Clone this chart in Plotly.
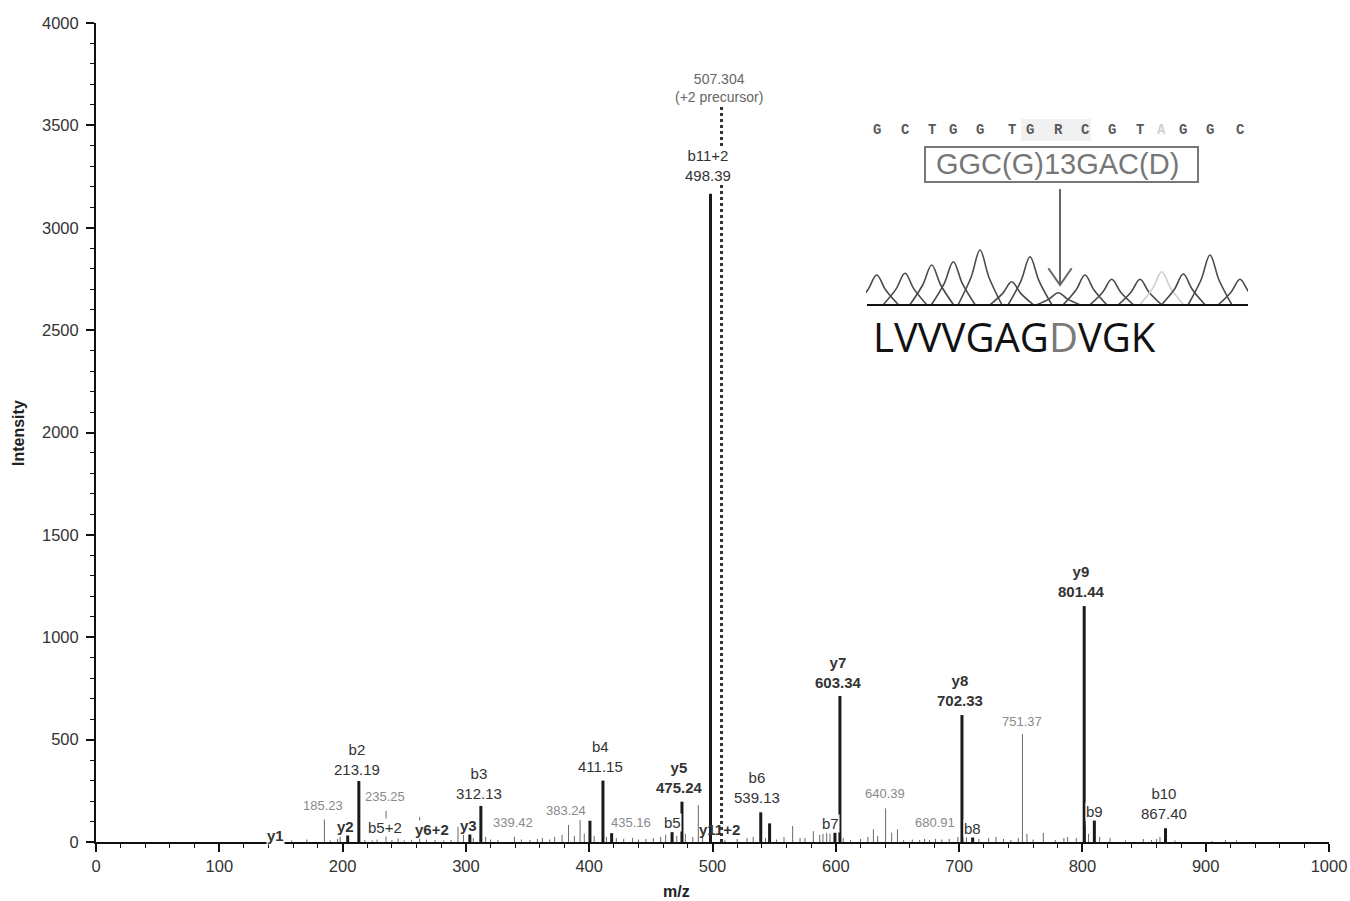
import plotly.graph_objects as go

# ---------------- data: MS/MS spectrum ----------------
# matched fragment ions (thick black sticks)
matched_mz = [147.11, 204.13, 213.19, 303.19, 312.13, 400.6, 411.15, 418.2, 467.2,
              475.24, 498.39, 539.13, 546.3, 599.3, 603.34, 702.33, 711.0, 801.44,
              809.7, 867.40]
matched_int = [6, 50, 298, 45, 176, 104, 300, 43, 48,
               197, 3166, 145, 91, 46, 713, 620, 29, 1152,
               107, 67]

# other peaks (thin grey sticks)
other_mz = [158.7, 171.0, 185.23, 190.0, 196.0, 198.0, 218.0, 224.0, 228.0, 235.25,
            240.0, 245.0, 250.0, 256.0, 262.5, 268.0, 275.0, 282.0, 288.0, 293.6,
            298.0, 306.0, 316.0, 320.0, 326.0, 339.42, 345.0, 352.0, 358.0, 362.0,
            368.0, 372.0, 378.0, 383.24, 388.0, 392.6, 396.0, 404.0, 414.0, 422.0,
            428.0, 435.16, 440.0, 446.0, 452.0, 458.0, 462.0, 471.0, 478.0, 484.0,
            488.5, 492.0, 510.0, 520.0, 528.0, 533.0, 543.0, 552.0, 558.0, 565.0,
            571.0, 575.0, 581.8, 587.0, 589.6, 592.6, 595.3, 606.0, 612.0, 620.0,
            626.0, 630.5, 634.0, 640.39, 645.3, 650.0, 655.0, 662.0, 668.0, 672.0,
            676.0, 680.91, 686.0, 692.0, 699.0, 706.0, 716.0, 724.0, 730.0, 736.0,
            742.0, 748.0, 751.37, 755.0, 760.0, 768.3, 778.0, 785.0, 788.0, 795.0,
            802.4, 805.0, 814.0, 822.4, 835.0, 849.4, 856.0, 860.2, 862.9, 875.0,
            905.0, 916.0, 925.0]
other_int = [8, 12, 110, 8, 15, 26, 10, 8, 12, 152,
             10, 18, 8, 10, 123, 12, 10, 8, 10, 75,
             35, 20, 25, 12, 10, 25, 12, 10, 15, 20,
             12, 25, 35, 83, 30, 107, 40, 30, 25, 20,
             15, 20, 12, 15, 20, 25, 35, 30, 40, 25,
             180, 30, 10, 15, 20, 25, 20, 12, 25, 78,
             20, 20, 53, 35, 40, 45, 40, 20, 10, 15,
             25, 62, 30, 164, 46, 62, 10, 12, 10, 15,
             10, 15, 12, 15, 25, 35, 15, 20, 25, 15,
             10, 20, 527, 40, 12, 44, 10, 20, 25, 20,
             83, 40, 25, 20, 8, 15, 10, 15, 25, 8,
             5, 10, 8]

precursor_mz = 507.304
precursor_top = 3590

# peak annotations
ion_text = ["b2<br>213.19", "b3<br>312.13", "b4<br>411.15", "<b>y5<br>475.24</b>",
            "b6<br>539.13", "<b>y7<br>603.34</b>", "<b>y8<br>702.33</b>",
            "<b>y9<br>801.44</b>", "b10<br>867.40", "b11+2<br>498.39",
            "<b>y1</b>", "<b>y2</b>", "b5+2", "<b>y6+2</b>", "<b>y3</b>", "b5",
            "b7", "b8", "b9"]
ion_x = [211.4, 310.6, 409.2, 473.6, 536.0, 601.8, 700.7, 799.4, 865.9, 496.6,
         145.7, 202.5, 234.4, 272.2, 302.5, 467.6, 595.3, 710.9, 809.8]
ion_y = [405, 288, 420, 317, 264, 828, 742, 1271, 188, 3304,
         34, 78, 73, 63, 83, 93, 88, 68, 147]

y11_text = "<b>y11+2</b>"
y11_x, y11_y = 506.0, 63

mz_text = ["185.23", "235.25", "339.42", "383.24", "435.16", "640.39", "680.91", "751.37"]
mz_x = [184.1, 234.1, 337.8, 381.0, 433.9, 639.6, 680.6, 751.1]
mz_y = [176, 220, 93, 156, 93, 236, 93, 587]

prec_text = "507.304<br>(+2 precursor)"
prec_x, prec_y = 504.9, 3684

# ---------------- data: sequencing trace inset ----------------
bases = ["G", "C", "T", "G", "G", "T", "G", "R", "C", "G", "T", "A", "G", "G", "C"]
trace_pos = [10.7, 39.0, 65.7, 87.3, 114.0, 145.7, 164.0, 192.3, 219.0, 245.7,
             274.0, 295.7, 317.3, 344.0, 374.0]
trace_height = [30, 31.7, 40, 43.3, 55, 23.3, 48.3, 12.3, 30, 25.7, 25.7, 33.3, 31, 50, 25.7]
mutation_text = "GGC(G)13GAC(D)"
peptide = ["L", "V", "V", "V", "G", "A", "G", "D", "V", "G", "K"]


def stems(xs, ys):
    sx, sy = [], []
    for x, y in zip(xs, ys):
        sx += [x, x, None]
        sy += [0, y, None]
    return sx, sy


FONT = "Liberation Sans, Arial, sans-serif"
fig = go.Figure()

ox, oy = stems(other_mz, other_int)
fig.add_trace(go.Scatter(x=ox, y=oy, mode="lines", line=dict(color="#6a6a6a", width=1),
                         hoverinfo="skip"))
mx, my = stems(matched_mz, matched_int)
fig.add_trace(go.Scatter(x=mx, y=my, mode="lines", line=dict(color="#1a1a1a", width=3),
                         hoverinfo="skip"))
fig.add_trace(go.Scatter(x=[precursor_mz, precursor_mz], y=[0, precursor_top], mode="lines",
                         line=dict(color="#333", width=3, dash="dot"), hoverinfo="skip"))

# ---- inset chromatogram (bell-shaped peaks drawn as smoothed splines) ----
PEAK_DX = [-22, -9, 0, 9, 22]
PEAK_FY = [0, 0.5, 1, 0.5, 0]
for b, c, h in zip(bases, trace_pos, trace_height):
    col = "#cfcfcf" if b == "A" else "#4a4a4a"
    fig.add_trace(go.Scatter(x=[c + d for d in PEAK_DX], y=[h * f for f in PEAK_FY],
                             mode="lines",
                             line=dict(color=col, width=1.6, shape="spline", smoothing=1.0),
                             xaxis="x2", yaxis="y2", hoverinfo="skip"))
# baseline of trace
fig.add_trace(go.Scatter(x=[1, 382], y=[0, 0], mode="lines", line=dict(color="#111", width=2),
                         xaxis="x2", yaxis="y2", hoverinfo="skip"))
# arrow
fig.add_trace(go.Scatter(x=[194, 194], y=[116, 21], mode="lines", line=dict(color="#666", width=2),
                         xaxis="x2", yaxis="y2", hoverinfo="skip"))
fig.add_trace(go.Scatter(x=[182.3, 194, 205.7], y=[36.7, 20, 36.7], mode="lines",
                         line=dict(color="#666", width=2), xaxis="x2", yaxis="y2", hoverinfo="skip"))

annotations = []
for t, x, y in zip(ion_text, ion_x, ion_y):
    annotations.append(dict(x=x, y=y, xref="x", yref="y", text=t, showarrow=False,
                            yanchor="middle", xanchor="center", bgcolor="white", borderpad=0,
                            font=dict(family=FONT, size=15, color="#333")))
annotations.append(dict(x=y11_x, y=y11_y, xref="x", yref="y", text=y11_text, showarrow=False,
                        yanchor="middle", xanchor="center",
                        font=dict(family=FONT, size=15, color="#333")))
for t, x, y in zip(mz_text, mz_x, mz_y):
    annotations.append(dict(x=x, y=y, xref="x", yref="y", text=t, showarrow=False,
                            yanchor="middle", xanchor="center",
                            font=dict(family=FONT, size=13, color="#8a8a8a")))
annotations.append(dict(x=prec_x, y=prec_y, xref="x", yref="y", text=prec_text, showarrow=False,
                        yanchor="middle", xanchor="center",
                        font=dict(family=FONT, size=14, color="#666")))

# inset texts
for b, c in zip(bases, trace_pos):
    col = "#d0d0d0" if b == "A" else "#5a5a5a"
    annotations.append(dict(x=c, y=175, xref="x2", yref="y2", text="<b>" + b + "</b>",
                            showarrow=False, font=dict(family="Liberation Mono, monospace",
                                                       size=14, color=col)))
annotations.append(dict(x=191.3, y=141, xref="x2", yref="y2", text=mutation_text, showarrow=False,
                        font=dict(family=FONT, size=29, color="#777")))
pep_html = "".join(
    ('<span style="color:#7a7a7a">%s</span>' % a) if a == "D" else a for a in peptide)
annotations.append(dict(x=148.5, y=-31, xref="x2", yref="y2", text=pep_html, showarrow=False,
                        font=dict(family="Open Sans, sans-serif", size=40, color="#111")))

# axis titles (plot area spans 1233 x 819 px)
annotations.append(dict(x=(18 - 96) / 1233, y=(842 - 433) / 819, xref="paper", yref="paper",
                        xanchor="center", yanchor="middle",
                        text="<b>Intensity</b>", textangle=-90, showarrow=False,
                        font=dict(family=FONT, size=16, color="#222")))
annotations.append(dict(x=(676 - 96) / 1233, y=(842 - 891) / 819, xref="paper", yref="paper",
                        xanchor="center", yanchor="middle",
                        text="<b>m/z</b>", showarrow=False,
                        font=dict(family=FONT, size=16, color="#222")))

shapes = [
    dict(type="rect", xref="x2", yref="y2", x0=155, x1=225, y0=164, y1=186,
         fillcolor="#f1f1f1", line=dict(width=0), layer="below"),
    dict(type="rect", xref="x2", yref="y2", x0=59, x1=332, y0=123, y1=158,
         fillcolor="rgba(0,0,0,0)", line=dict(color="#777", width=2)),
]

axis_common = dict(showline=True, linecolor="#111", linewidth=2, ticks="outside",
                   ticklen=8, tickwidth=1.5, tickcolor="#111", showgrid=False,
                   zeroline=False, automargin=False, ticklabeloverflow="allow",
                   tickfont=dict(family=FONT, size=16.5, color="#333"))

fig.update_layout(
    width=1350, height=901,
    margin=dict(l=96, r=21, t=23, b=59),
    paper_bgcolor="white", plot_bgcolor="white", showlegend=False,
    font=dict(family=FONT, color="#333"),
    xaxis=dict(range=[0, 1000], tick0=0, dtick=100,
               minor=dict(dtick=20, ticks="outside", ticklen=4, tickwidth=1.2, tickcolor="#111"),
               **axis_common),
    yaxis=dict(range=[0, 4000], tick0=0, dtick=500, ticklabelstandoff=4,
               minor=dict(dtick=100, ticks="outside", ticklen=4, tickwidth=1.2, tickcolor="#111"),
               **axis_common),
    xaxis2=dict(domain=[(866 - 96) / 1233, (1248 - 96) / 1233], range=[0, 382],
                visible=False, anchor="y2", fixedrange=True),
    yaxis2=dict(domain=[(842 - 360) / 819, (842 - 115) / 819], range=[-55, 190],
                visible=False, anchor="x2", fixedrange=True),
    annotations=annotations,
    shapes=shapes,
)

# remove the default page margin so the 1350x901 figure fills the window exactly
fig.write_html(
    "out.html",
    config={"displayModeBar": False},
    post_script="document.body.style.margin='0';"
                "document.documentElement.style.overflow='hidden';"
                "document.body.style.overflow='hidden';",
)
